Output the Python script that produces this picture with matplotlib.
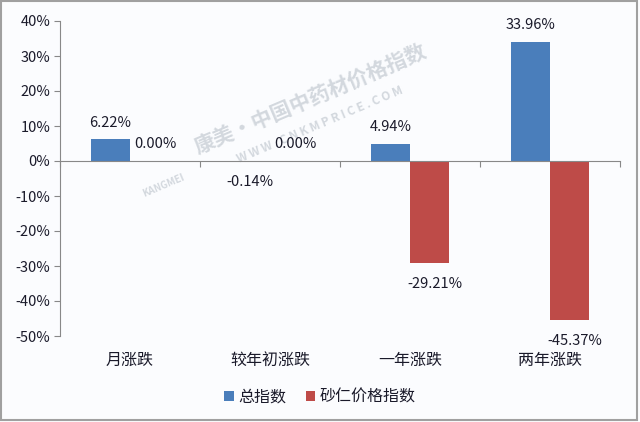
import numpy as np
import matplotlib
matplotlib.use("Agg")
from matplotlib import pyplot as plt
from matplotlib.patches import Rectangle

plt.rcParams['font.family'] = ['Noto Sans CJK SC', 'DejaVu Sans']

categories = ["月涨跌", "较年初涨跌", "一年涨跌", "两年涨跌"]
total_index = [6.22, -0.14, 4.94, 33.96]
sharen_index = [0.00, 0.00, -29.21, -45.37]
series_names = ["总指数", "砂仁价格指数"]
yticks = [-50, -40, -30, -20, -10, 0, 10, 20, 30, 40]

blue = "#4a7ebb"
red = "#be4b48"
text_col = "#1a1a2a"
wm_col = "#d3d8de"

fig = plt.figure(figsize=(6.4, 4.22), dpi=100, facecolor="#fbfcfe")
ax = fig.add_axes([60 / 640, 1 - 336 / 422, 560 / 640, 315 / 422])
ax.set_facecolor("#fbfcfe")

x = np.arange(len(categories))
w = 0.28
b1 = ax.bar(x - w / 2, total_index, w, color=blue, label=series_names[0], zorder=2)
b2 = ax.bar(x + w / 2, sharen_index, w, color=red, label=series_names[1], zorder=2)

for bars, vals, dx in [(b1, total_index, 0), (b2, sharen_index, 4)]:
    for bar, v in zip(bars, vals):
        cx = bar.get_x() + bar.get_width() / 2
        off = 7 if v >= 0 else -10
        ax.annotate(f"{v:.2f}%", (cx, v), xytext=(dx, off), textcoords="offset points",
                    ha="center", va="bottom" if v >= 0 else "top",
                    fontsize=10.5, color=text_col, zorder=4)

ax.set_xlim(-0.5, len(categories) - 0.5)
ax.set_ylim(-50, 40)
ax.set_yticks(yticks)
ax.set_yticklabels([f"{t}%" for t in yticks], fontsize=10.5, color=text_col)
ax.tick_params(axis="y", length=4, color="#888888", pad=3)

ax.spines["top"].set_visible(False)
ax.spines["right"].set_visible(False)
ax.spines["left"].set_color("#888888")
ax.spines["bottom"].set_color("#888888")
ax.spines["bottom"].set_position(("data", 0))

ax.set_xticks(np.arange(len(categories) + 1) - 0.5)
ax.set_xticklabels([])
ax.tick_params(axis="x", length=4, color="#888888", direction="out")

trans = ax.get_xaxis_transform()
for i, c in enumerate(categories):
    ax.text(i, -0.076, c, transform=trans, ha="center", va="center",
            fontsize=11.5, color=text_col)

# watermark, behind the bars and labels
ax.text(0.485, 0.765, "康美·中国中药材价格指数", rotation=23, fontsize=15,
        fontweight="bold", color=wm_col, ha="center", va="center",
        transform=fig.transFigure, zorder=0.5)
ax.text(0.5, 0.705, "W W W . C N K M P R I C E . C O M", rotation=23, fontsize=8.5,
        fontweight="bold", color=wm_col, ha="center", va="center",
        transform=fig.transFigure, zorder=0.5)
ax.text(0.255, 0.56, "KANGMEI", rotation=23, fontsize=7, fontweight="bold",
        color=wm_col, ha="center", va="center",
        transform=fig.transFigure, zorder=0.5)

leg = fig.legend(handles=[b1, b2], labels=series_names, loc="center",
                 bbox_to_anchor=(0.5, 1 - 397 / 422), ncol=2, frameon=False,
                 fontsize=11.5, handlelength=0.6, handleheight=0.6,
                 handletextpad=0.3, columnspacing=1.2)
for t in leg.get_texts():
    t.set_color(text_col)

fig.add_artist(Rectangle((0.002, 0.004), 0.994, 0.993, transform=fig.transFigure,
                         fill=False, edgecolor="#a0a0a0", linewidth=1.5))

fig.savefig("out.png", dpi=100, facecolor=fig.get_facecolor())
